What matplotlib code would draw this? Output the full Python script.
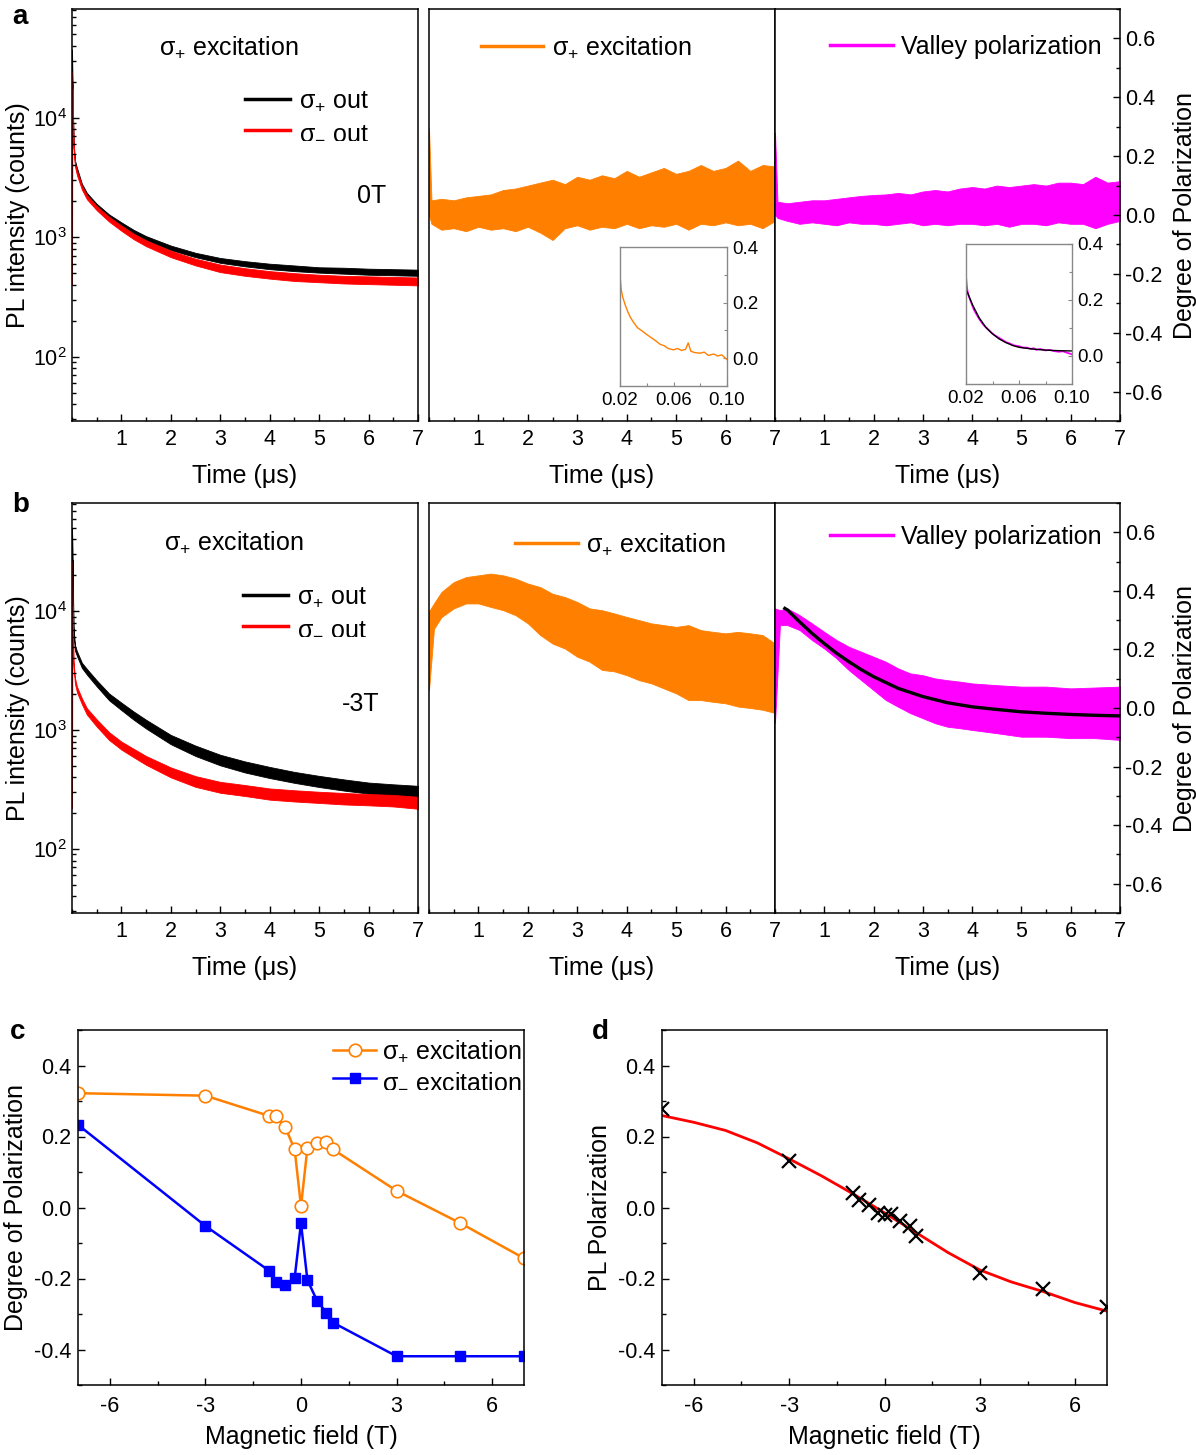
import numpy as np
import matplotlib.pyplot as plt
from matplotlib.ticker import MultipleLocator, LogLocator, NullFormatter, FixedLocator

plt.rcParams['font.family'] = ['Liberation Sans', 'DejaVu Sans']
plt.rcParams['mathtext.fontset'] = 'custom'
plt.rcParams['mathtext.rm'] = 'Liberation Sans'
plt.rcParams['mathtext.it'] = 'Liberation Sans:italic'
plt.rcParams['mathtext.bf'] = 'Liberation Sans:bold'
plt.rcParams['axes.unicode_minus'] = False
plt.rcParams['xtick.direction'] = 'in'
plt.rcParams['ytick.direction'] = 'in'
plt.rcParams['axes.linewidth'] = 1.1

ORANGE = '#FF8000'
MAGENTA = '#FF00FF'
SP = r'$\mathrm{σ}_{+}$'
SM = r'$\mathrm{σ}_{-}$'

# ---- PL decay traces (counts), envelopes of the noisy data ----
t_pl = [0, 0.01, 0.03, 0.06, 0.1, 0.2, 0.3, 0.5, 0.75, 1, 1.25, 1.5, 2, 2.5,
        3, 3.5, 4, 4.5, 5, 5.5, 6, 6.5, 7]
# panel a, 0T
black_a_hi = [37000, 21000, 6400, 4400, 3800, 2800, 2350, 1900, 1550, 1330, 1150, 1020,
              850, 740, 670, 630, 600, 580, 560, 555, 545, 540, 535]
black_a_lo = [20000, 19000, 5900, 4100, 3500, 2600, 2200, 1780, 1450, 1240, 1060, 940,
              780, 680, 610, 570, 540, 520, 505, 495, 485, 480, 475]
red_a_hi = [24000, 19000, 6200, 4200, 3600, 2700, 2250, 1820, 1480, 1250, 1070, 940,
            770, 660, 590, 550, 520, 500, 485, 475, 470, 465, 460]
red_a_lo = [400, 17500, 5700, 3900, 3300, 2500, 2080, 1680, 1350, 1130, 960, 840,
            680, 580, 510, 475, 450, 430, 420, 410, 405, 400, 395]
# panel b, -3T
black_b_hi = [50000, 33000, 7400, 5150, 4600, 3680, 3270, 2620, 2030, 1700, 1430, 1220,
              910, 740, 620, 545, 490, 445, 412, 385, 362, 350, 340]
black_b_lo = [25000, 27000, 6600, 4650, 4200, 3330, 2930, 2330, 1780, 1470, 1220, 1030,
              760, 605, 505, 440, 395, 360, 332, 310, 292, 283, 275]
red_b_hi = [26000, 13000, 3800, 2750, 2320, 1850, 1530, 1230, 960, 800, 695, 605,
            485, 410, 367, 345, 323, 312, 303, 296, 290, 285, 275]
red_b_lo = [220, 11000, 3400, 2450, 2080, 1650, 1350, 1070, 825, 685, 590, 510,
            400, 333, 297, 279, 260, 251, 244, 237, 233, 228, 218]

# ---- degree of polarization traces, panel a ----
t_pol_a = [0, 0.05, 0.25, 0.5, 0.75, 1.0, 1.25, 1.5, 1.75, 2.0, 2.25, 2.5, 2.75, 3.0,
           3.25, 3.5, 3.75, 4.0, 4.25, 4.5, 4.75, 5.0, 5.25, 5.5, 5.75, 6.0, 6.25,
           6.5, 6.75, 7.0]
orange_a_hi = [0.295, 0.05, 0.055, 0.05, 0.06, 0.065, 0.07, 0.085, 0.09, 0.10, 0.11, 0.12,
               0.105, 0.13, 0.12, 0.135, 0.125, 0.15, 0.13, 0.145, 0.16, 0.14, 0.15, 0.17,
               0.15, 0.16, 0.185, 0.15, 0.17, 0.165]
orange_a_lo = [0.0, -0.03, -0.05, -0.045, -0.055, -0.04, -0.05, -0.045, -0.055, -0.04,
               -0.06, -0.085, -0.045, -0.035, -0.05, -0.04, -0.045, -0.03, -0.045, -0.035,
               -0.04, -0.03, -0.05, -0.03, -0.035, -0.025, -0.035, -0.03, -0.045, -0.02]
mag_a_hi = [0.28, 0.045, 0.04, 0.045, 0.05, 0.05, 0.055, 0.06, 0.065, 0.068, 0.07, 0.075,
            0.07, 0.08, 0.085, 0.08, 0.09, 0.095, 0.09, 0.1, 0.095, 0.1, 0.105, 0.1, 0.11,
            0.11, 0.105, 0.13, 0.11, 0.115]
mag_a_lo = [0.0, -0.01, -0.02, -0.03, -0.025, -0.03, -0.035, -0.025, -0.03, -0.03, -0.035,
            -0.03, -0.025, -0.035, -0.03, -0.035, -0.03, -0.03, -0.035, -0.03, -0.04, -0.03,
            -0.03, -0.035, -0.025, -0.03, -0.03, -0.045, -0.03, -0.02]

# insets of panel a (first 100 ns)
ins_t = [0.020, 0.0205, 0.021, 0.022, 0.024, 0.026, 0.028, 0.030, 0.033, 0.036, 0.040,
         0.043, 0.046, 0.050, 0.053, 0.056, 0.060, 0.063, 0.066, 0.069, 0.071, 0.073,
         0.076, 0.080, 0.083, 0.086, 0.090, 0.093, 0.096, 0.100]
ins_orange = [0.30, 0.27, 0.245, 0.22, 0.19, 0.165, 0.145, 0.13, 0.11, 0.10, 0.085, 0.075,
              0.065, 0.05, 0.045, 0.035, 0.03, 0.035, 0.028, 0.032, 0.055, 0.025, 0.02,
              0.018, 0.022, 0.01, 0.015, 0.008, 0.012, -0.005]
ins_mag = [0.285, 0.255, 0.235, 0.215, 0.19, 0.165, 0.148, 0.132, 0.112, 0.098, 0.08,
           0.07, 0.062, 0.05, 0.045, 0.038, 0.035, 0.03, 0.03, 0.025, 0.028, 0.022, 0.025,
           0.02, 0.022, 0.018, 0.015, 0.017, 0.012, 0.006]
ins_fit_t = [0.020, 0.025, 0.030, 0.035, 0.040, 0.045, 0.050, 0.055, 0.060, 0.070, 0.080,
             0.090, 0.100]
ins_fit = [0.239, 0.182, 0.136, 0.102, 0.079, 0.061, 0.048, 0.038, 0.031, 0.025, 0.021,
           0.019, 0.018]

# ---- degree of polarization traces, panel b ----
t_pol_b = [0, 0.1, 0.25, 0.5, 0.75, 1.0, 1.25, 1.5, 1.75, 2.0, 2.25, 2.5, 2.75, 3.0,
           3.25, 3.5, 3.75, 4.0, 4.25, 4.5, 4.75, 5.0, 5.25, 5.5, 5.75, 6.0, 6.25, 6.5,
           6.75, 7.0]
orange_b_hi = [0.33, 0.357, 0.396, 0.43, 0.447, 0.453, 0.459, 0.453, 0.442, 0.425, 0.413,
               0.39, 0.379, 0.362, 0.34, 0.334, 0.323, 0.311, 0.30, 0.289, 0.283, 0.277,
               0.283, 0.266, 0.26, 0.255, 0.26, 0.255, 0.249, 0.22]
orange_b_lo = [0.06, 0.27, 0.31, 0.34, 0.357, 0.357, 0.345, 0.334, 0.317, 0.289, 0.249,
               0.22, 0.203, 0.175, 0.158, 0.13, 0.125, 0.112, 0.095, 0.084, 0.067, 0.05,
               0.027, 0.027, 0.021, 0.016, 0.005, 0.0, -0.006, -0.017]
t_mag_b = [0, 0.1, 0.25, 0.5, 0.75, 1.0, 1.25, 1.5, 1.75, 2.0, 2.25, 2.5, 2.75, 3.0,
           3.25, 3.5, 3.75, 4.0, 4.5, 5.0, 5.5, 6.0, 6.5, 7.0]
mag_b_hi = [0.34, 0.334, 0.34, 0.317, 0.289, 0.26, 0.232, 0.209, 0.192, 0.175, 0.158,
            0.135, 0.118, 0.112, 0.101, 0.095, 0.09, 0.084, 0.078, 0.073, 0.073, 0.067,
            0.07, 0.073]
mag_b_lo = [-0.05, 0.283, 0.283, 0.266, 0.232, 0.203, 0.169, 0.129, 0.095, 0.061, 0.027,
            0.004, -0.018, -0.035, -0.052, -0.064, -0.069, -0.075, -0.086, -0.098,
            -0.098, -0.103, -0.103, -0.109]
fit_b_t = [0.2, 0.25, 0.5, 0.75, 1.0, 1.25, 1.5, 1.75, 2.0, 2.5, 3.0, 3.5, 4.0, 4.5,
           5.0, 5.5, 6.0, 6.5, 7.0]
fit_b_y = [0.34, 0.335, 0.294, 0.255, 0.22, 0.187, 0.158, 0.131, 0.107, 0.067, 0.039,
           0.018, 0.004, -0.005, -0.013, -0.018, -0.022, -0.025, -0.027]

# ---- panel c: polarization vs field ----
field = [-7, -3, -1, -0.8, -0.5, -0.2, 0, 0.2, 0.5, 0.8, 1, 3, 5, 7]
pol_sp = [0.322, 0.315, 0.258, 0.258, 0.227, 0.164, 0.003, 0.167, 0.181, 0.184, 0.164,
          0.047, -0.044, -0.143]
pol_sm = [0.233, -0.052, -0.178, -0.211, -0.218, -0.199, -0.044, -0.204, -0.262, -0.297,
          -0.324, -0.419, -0.419, -0.419]

# ---- panel d: PL polarization vs field ----
pl_pol = [0.278, 0.132, 0.040, 0.022, 0.008, -0.016, -0.021, -0.018, -0.039, -0.053,
          -0.079, -0.185, -0.23, -0.279]
fit_B = [-7, -6, -5, -4, -3, -2, -1, 0, 1, 2, 3, 4, 5, 6, 7]
fit_P = [0.259, 0.24, 0.217, 0.182, 0.137, 0.09, 0.039, -0.015, -0.071, -0.127, -0.176,
         -0.21, -0.237, -0.268, -0.292]

FS = 18
TFS = 15.5

fig = plt.figure(figsize=(11.96, 14.55), dpi=100)
W, H = 1196.0, 1455.0


def add_ax(x0, x1, y0, y1):
    return fig.add_axes([x0 / W, 1 - y1 / H, (x1 - x0) / W, (y1 - y0) / H])


def time_axis(ax):
    ax.set_xlim(0, 7)
    ax.xaxis.set_major_locator(FixedLocator([1, 2, 3, 4, 5, 6, 7]))
    ax.xaxis.set_minor_locator(MultipleLocator(0.5))
    ax.tick_params(axis='x', which='major', length=5, width=1, labelsize=TFS, pad=6, top=False)
    ax.tick_params(axis='x', which='minor', length=3, width=1, top=False)
    ax.set_xlabel('Time (μs)', fontsize=FS, labelpad=10)


def pl_panel(ax, bhi, blo, rhi, rlo, tag, tag_pos, leg_pos, title_pos):
    ax.fill_between(t_pl, blo, bhi, color='black', lw=0.6)
    ax.fill_between(t_pl, rlo, rhi, color='red', lw=0.6)
    ax.set_yscale('log')
    ax.set_ylim(29, 8.1e4)
    ax.yaxis.set_major_locator(LogLocator(base=10, numticks=10))
    ax.yaxis.set_minor_locator(LogLocator(base=10, subs=np.arange(2, 10), numticks=20))
    ax.yaxis.set_minor_formatter(NullFormatter())
    ax.tick_params(axis='y', which='major', length=5, width=1, labelsize=TFS, right=False)
    ax.tick_params(axis='y', which='minor', length=3, width=1, right=False)
    time_axis(ax)
    ax.set_ylabel('PL intensity (counts)', fontsize=FS, labelpad=2)
    ax.plot([], [], color='black', lw=2.5, label=SP + ' out')
    ax.plot([], [], color='red', lw=2.5, label=SM + ' out')
    ax.legend(loc='upper left', bbox_to_anchor=leg_pos, frameon=False, fontsize=FS,
              handlelength=1.8, handletextpad=0.35, labelspacing=0.25, borderpad=0,
              borderaxespad=0)
    ax.text(title_pos[0], title_pos[1], SP + ' excitation', transform=ax.transAxes,
            fontsize=FS, ha='center', va='center')
    ax.text(tag_pos[0], tag_pos[1], tag, transform=ax.transAxes, fontsize=FS,
            ha='center', va='center')


def pol_axis(ax, right):
    ax.set_ylim(-0.7, 0.7)
    ax.yaxis.set_major_locator(MultipleLocator(0.2))
    ax.yaxis.set_minor_locator(MultipleLocator(0.1))
    time_axis(ax)
    if right:
        ax.yaxis.tick_right()
        ax.tick_params(axis='y', which='major', length=5, width=1, labelsize=TFS,
                       left=False, right=True)
        ax.tick_params(axis='y', which='minor', length=3, width=1, left=False, right=True)
        ax.yaxis.set_label_position('right')
        ax.set_ylabel('Degree of Polarization', fontsize=FS, labelpad=8)
    else:
        ax.tick_params(axis='y', which='both', left=False, right=False, labelleft=False)


def small_leg(ax, color, text, pos):
    ax.plot([], [], color=color, lw=2.5, label=text)
    ax.legend(loc='upper left', bbox_to_anchor=pos, frameon=False, fontsize=FS,
              handlelength=2.5, handletextpad=0.35, borderpad=0, borderaxespad=0)


def inset(x0, x1, y0, y1):
    ax = add_ax(x0, x1, y0, y1)
    ax.set_xlim(0.02, 0.10)
    ax.set_ylim(-0.1, 0.4)
    ax.xaxis.set_major_locator(FixedLocator([0.02, 0.06, 0.10]))
    ax.xaxis.set_minor_locator(FixedLocator([0.04, 0.08]))
    ax.yaxis.set_major_locator(FixedLocator([0.0, 0.2, 0.4]))
    ax.yaxis.set_minor_locator(FixedLocator([0.1, 0.3]))
    ax.set_xticklabels(['0.02', '0.06', '0.10'])
    ax.set_yticklabels(['0.0', '0.2', '0.4'])
    ax.yaxis.tick_right()
    ax.tick_params(which='major', length=3, width=0.8, labelsize=13.5, color='#888888', pad=4)
    ax.tick_params(which='minor', length=2, width=0.8, color='#888888')
    for s in ax.spines.values():
        s.set_color('#888888')
        s.set_linewidth(1)
    return ax


# ---------------- panel a ----------------
ax_al = add_ax(72, 418, 9, 421)
pl_panel(ax_al, black_a_hi, black_a_lo, red_a_hi, red_a_lo, '0T', (0.867, 0.546),
         (0.50, 0.806), (0.454, 0.908))

ax_am = add_ax(429, 775, 9, 421)
ax_am.fill_between(t_pol_a, orange_a_lo, orange_a_hi, color=ORANGE, lw=0.6)
pol_axis(ax_am, False)
small_leg(ax_am, ORANGE, SP + ' excitation', (0.15, 0.937))

ax_ar = add_ax(775, 1120, 9, 421)
ax_ar.fill_between(t_pol_a, mag_a_lo, mag_a_hi, color=MAGENTA, lw=0.6)
pol_axis(ax_ar, True)
small_leg(ax_ar, MAGENTA, 'Valley polarization', (0.16, 0.937))

ia = inset(620, 727, 247, 386)
ia.plot(ins_t, ins_orange, color=ORANGE, lw=1.0)
ib = inset(966, 1072, 244, 384)
ib.plot(ins_t, ins_mag, color=MAGENTA, lw=1.3)
ib.plot(ins_fit_t, ins_fit, color='black', lw=1.0)

# ---------------- panel b ----------------
ax_bl = add_ax(72, 418, 503, 913)
pl_panel(ax_bl, black_b_hi, black_b_lo, red_b_hi, red_b_lo, '-3T', (0.835, 0.51),
         (0.494, 0.80), (0.468, 0.905))

ax_bm = add_ax(429, 775, 503, 913)
ax_bm.fill_between(t_pol_b, orange_b_lo, orange_b_hi, color=ORANGE, lw=0.6)
pol_axis(ax_bm, False)
small_leg(ax_bm, ORANGE, SP + ' excitation', (0.249, 0.93))

ax_br = add_ax(775, 1120, 503, 913)
ax_br.fill_between(t_mag_b, mag_b_lo, mag_b_hi, color=MAGENTA, lw=0.6)
ax_br.plot(fit_b_t, fit_b_y, color='black', lw=2.4)
pol_axis(ax_br, True)
small_leg(ax_br, MAGENTA, 'Valley polarization', (0.16, 0.946))


def field_axis(ax):
    ax.set_xlim(-7, 7)
    ax.set_ylim(-0.5, 0.5)
    ax.xaxis.set_major_locator(FixedLocator([-6, -3, 0, 3, 6]))
    ax.xaxis.set_minor_locator(MultipleLocator(1.5))
    ax.yaxis.set_major_locator(FixedLocator([-0.4, -0.2, 0.0, 0.2, 0.4]))
    ax.yaxis.set_minor_locator(MultipleLocator(0.1))
    ax.set_yticklabels(['-0.4', '-0.2', '0.0', '0.2', '0.4'])
    ax.tick_params(which='major', length=5, width=1, labelsize=TFS, top=False, right=False)
    ax.tick_params(which='minor', length=3, width=1, top=False, right=False)
    ax.tick_params(axis='x', which='major', pad=8)
    ax.tick_params(axis='y', which='major', pad=5)
    ax.set_xlabel('Magnetic field (T)', fontsize=FS, labelpad=6)


# ---------------- panel c ----------------
ax_c = add_ax(78, 524, 1030, 1385)
ax_c.plot(field, pol_sp, color=ORANGE, lw=1.8, marker='o', ms=9, mfc='white',
          mec=ORANGE, mew=1.2, label=SP + ' excitation')
ax_c.plot(field, pol_sm, color='#0000FF', lw=1.8, marker='s', ms=7.5, mfc='#0000FF',
          mec='#0000FF', label=SM + ' excitation')
field_axis(ax_c)
ax_c.set_ylabel('Degree of Polarization', fontsize=FS, labelpad=4)
ax_c.legend(loc='upper right', bbox_to_anchor=(0.995, 0.975), frameon=False, fontsize=FS,
            handlelength=1.7, handletextpad=0.25, labelspacing=0.15, borderpad=0,
            borderaxespad=0)

# ---------------- panel d ----------------
ax_d = add_ax(662, 1107, 1030, 1385)
ax_d.plot(fit_B, fit_P, color='red', lw=2)
ax_d.plot(field, pl_pol, ls='none', marker='x', ms=10, mew=1.6, color='black')
field_axis(ax_d)
ax_d.set_ylabel('PL Polarization', fontsize=FS, labelpad=4)

for letter, x, y in [('a', 12, 17), ('b', 12, 505), ('c', 10, 1032), ('d', 592, 1032)]:
    fig.text(x / W, 1 - y / H, letter, fontsize=20, fontweight='bold', ha='left', va='center')

fig.savefig('out.png', dpi=100)
